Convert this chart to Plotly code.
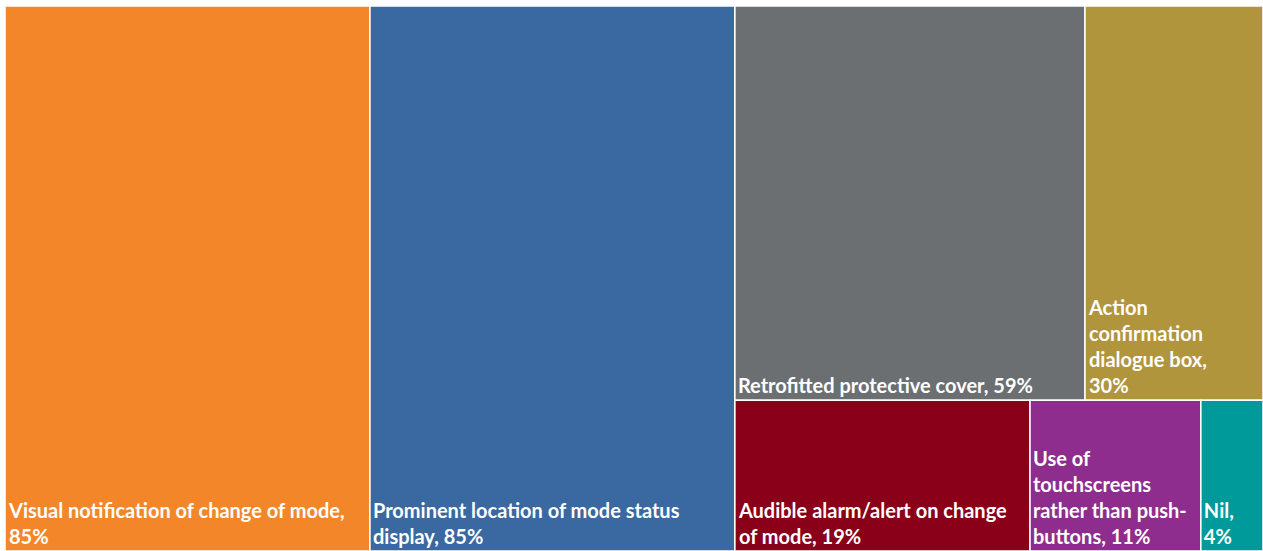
import plotly.graph_objects as go

categories = [
    "Visual notification of change of mode",
    "Prominent location of mode status display",
    "Retrofitted protective cover",
    "Action confirmation dialogue box",
    "Audible alarm/alert on change of mode",
    "Use of touchscreens rather than push-buttons",
    "Nil",
]
values = [85, 85, 59, 30, 19, 11, 4]
display_text = [
    "Visual notification of change of mode,<br>85%",
    "Prominent location of mode status<br>display, 85%",
    "Retrofitted protective cover, 59%",
    "Action<br>confirmation<br>dialogue box,<br>30%",
    "Audible alarm/alert on change<br>of mode, 19%",
    "Use of<br>touchscreens<br>rather than push-<br>buttons, 11%",
    "Nil,<br>4%",
]
colors = ["#F4862A", "#3A68A0", "#6B6F72", "#B0953C", "#8A0018", "#8E2D8D", "#009A9A"]
# layout groups (structure only): which block each category sits in
group_of = ["root", "root", "top", "top", "bottom", "bottom", "bottom"]

clear = "rgba(0,0,0,0)"
ids = ["root"]
parents = [""]
labels = ["root"]
vals = [0]
texts = [""]
cols = [clear]
for i in range(len(categories)):
    if i == 2:
        for gid, gpar in (("rest", "root"), ("top", "rest"), ("bottom", "rest")):
            ids.append(gid); parents.append(gpar); labels.append(gid)
            vals.append(0); texts.append(""); cols.append(clear)
    ids.append(f"c{i}")
    parents.append(group_of[i])
    labels.append(categories[i])
    vals.append(values[i])
    texts.append(display_text[i])
    cols.append(colors[i])

fig = go.Figure(go.Treemap(
    ids=ids,
    labels=labels,
    parents=parents,
    values=vals,
    text=texts,
    branchvalues="remainder",
    sort=False,
    texttemplate="<b>%{text}</b>",
    textposition="bottom left",
    textfont=dict(family="Lato", size=20, color="white"),
    marker=dict(colors=cols, line=dict(color="white", width=1.5), pad=dict(t=0, l=0, r=0, b=0)),
    tiling=dict(packing="slice-dice", pad=0),
    pathbar=dict(visible=False),
    hoverinfo="skip",
    root=dict(color=clear),
))
fig.update_layout(
    width=1263, height=551,
    margin=dict(l=5, r=0, t=6, b=0),
    paper_bgcolor="white",
    uniformtext=dict(minsize=20, mode="show"),
)
fig.write_html("out.html")
